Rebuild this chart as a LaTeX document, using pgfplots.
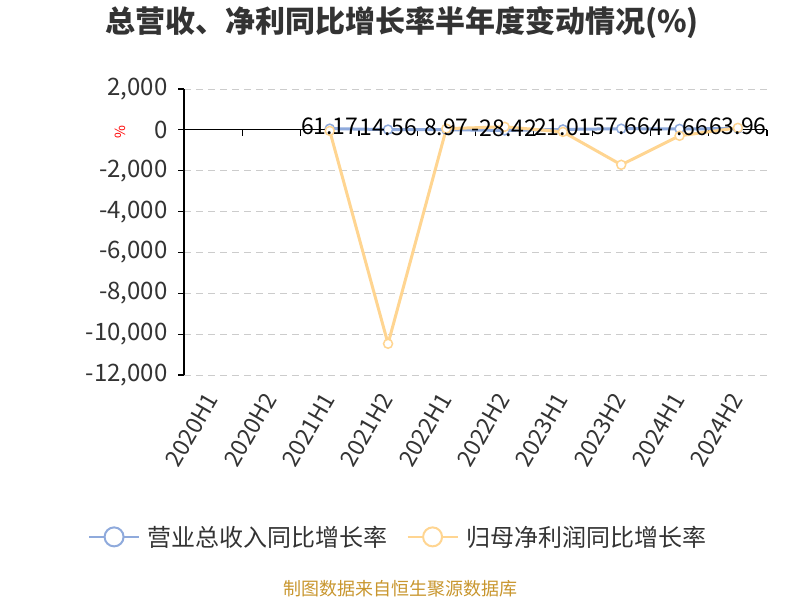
\documentclass[border=0pt]{standalone}
\usepackage{pgfplots}
\pgfplotsset{compat=1.18}
\usepackage{fontspec}
\setmainfont{Noto Sans CJK SC}
\definecolor{cblue}{HTML}{8FAADC}
\definecolor{corange}{HTML}{FFD591}
\definecolor{ctext}{HTML}{333333}
\definecolor{csrc}{HTML}{C8962E}
\definecolor{cgrid}{HTML}{CCCCCC}
\begin{document}
\begin{tikzpicture}[x=1pt,y=1pt]
\path (0,0) rectangle (800,-600);
\node[anchor=west, font=\fontsize{30}{34}\selectfont\bfseries, text=ctext, inner sep=0] at (105,-23) {总营收、净利同比增长率半年度变动情况(\%)};
\node[rotate=90, font=\fontsize{14}{16}\selectfont, text=red, inner sep=0] at (120,-132) {\%};
\node[font=\fontsize{18}{20}\selectfont, text=csrc, inner sep=0] at (400,-589) {制图数据来自恒生聚源数据库};
\begin{axis}[at={(184pt,-375pt)}, anchor=south west, scale only axis,
  width=583pt, height=286pt,
  xmin=-0.5, xmax=9.5, ymin=-12000, ymax=2000,
  axis x line*=bottom, x axis line style={draw=none},
  axis y line*=left, y axis line style={black, line width=1.2pt},
  xtick={0,...,9},
  xticklabels={2020H1,2020H2,2021H1,2021H2,2022H1,2022H2,2023H1,2023H2,2024H1,2024H2},
  major x tick style={draw=none},
  ytick={-12000,-10000,...,2000},
  scaled y ticks=false,
  major y tick style={black, line width=1.2pt},
  tick align=outside, major tick length=6pt,
  ymajorgrids, grid style={cgrid, dash pattern=on 7pt off 5pt, line width=1pt},
  /pgf/number format/assume math mode=true,
  /pgf/number format/1000 sep={,},
  yticklabel style={xshift=-7pt, font=\fontsize{24}{26}\selectfont, text=ctext},
  xticklabel style={yshift=-12pt, font=\fontsize{23}{26}\selectfont, text=ctext, rotate=60, anchor=east, inner sep=2pt},
  legend style={at={(axis description cs:-0.17,-0.566)}, anchor=west, draw=none, fill=none,
    font=\fontsize{24}{26}\selectfont, text=ctext, legend columns=2,
    /tikz/every even column/.append style={column sep=17pt}},
  legend cell align=left,
  clip=false,
]
\draw[black, line width=1.2pt] (axis cs:-0.5,0) -- (axis cs:9.5,0);
\pgfplotsinvokeforeach{-0.5,0.5,1.5,2.5,3.5,4.5,5.5,6.5,7.5,8.5,9.5}{
  \draw[black, line width=1.2pt] (axis cs:#1,0) -- ++(0pt,-6pt);
}
\addplot[cblue, line width=3pt, mark=*, mark size=4.5pt, mark options={fill=white, line width=1.5pt},
  legend image code/.code={\draw[cblue, line width=2pt] (0pt,0pt) -- (50pt,0pt); \draw[cblue, line width=2pt, fill=white] (25pt,0pt) circle (9.5pt); \path (55pt,0pt);}]
  table {
x y
2 61.17
3 14.56
4 8.97
5 -28.42
6 21.01
7 57.66
8 47.66
9 63.96
};
\addlegendentry{营业总收入同比增长率}
\addplot[corange, line width=3pt, mark=*, mark size=4.5pt, mark options={fill=white, line width=1.5pt},
  legend image code/.code={\draw[corange, line width=2pt] (0pt,0pt) -- (50pt,0pt); \draw[corange, line width=2pt, fill=white] (25pt,0pt) circle (9.5pt); \path (55pt,0pt);}]
  table {
x y
2 -50
3 -10470
4 60
5 150
6 -100
7 -1710
8 -290
9 100
};
\addlegendentry{归母净利润同比增长率}
\addplot[draw=none, mark=none, forget plot,
  nodes near coords, nodes near coords align={center},
  every node near coord/.append style={font=\fontsize{23}{24}\selectfont, text=black, anchor=center, yshift=2pt},
  /pgf/number format/fixed, /pgf/number format/precision=2, /pgf/number format/fixed zerofill]
  table {
x y
2 61.17
3 14.56
4 8.97
5 -28.42
6 21.01
7 57.66
8 47.66
9 63.96
};
\end{axis}
\end{tikzpicture}
\end{document}
